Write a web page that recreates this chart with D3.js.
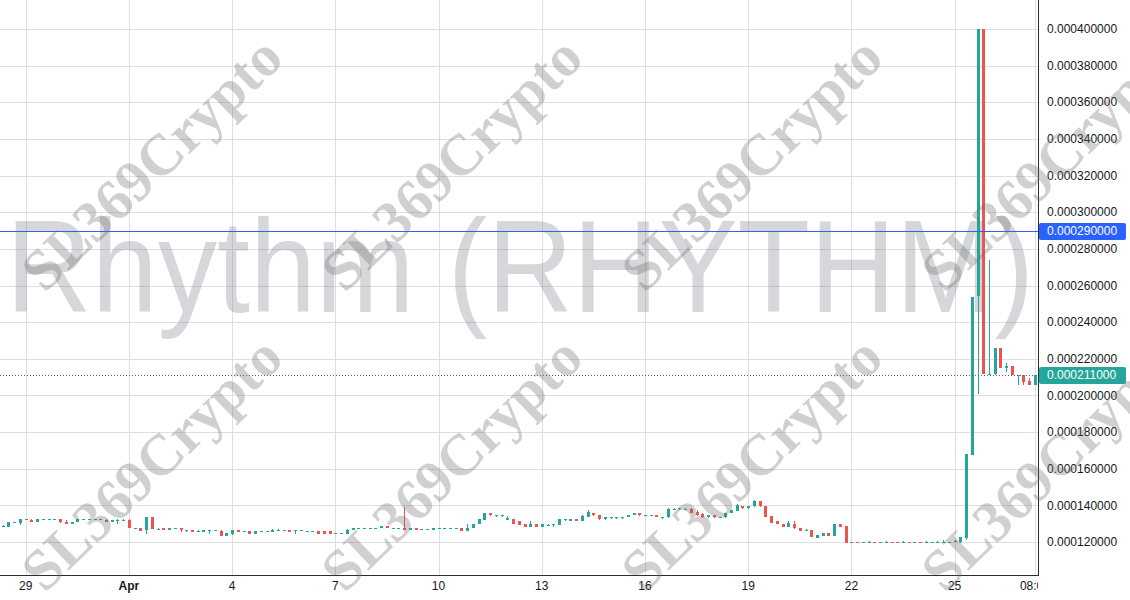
<!DOCTYPE html>
<html><head><meta charset="utf-8">
<script src="https://cdn.jsdelivr.net/npm/d3@7"></script>
<style>body{margin:0;background:#fff}svg{display:block}</style>
</head><body><svg id="c" width="1130" height="600"></svg>
<script>
// ---- data (prices in micro units, 1 unit = 0.000001) ----
const UNIT = 1e-6;
const startTime = "2024-03-28T08:00:00Z";
const barHours = 4;
const open = [128.5,128.4,130.7,130.6,132.5,132.2,130.8,132.5,132.4,132.5,132.4,130.8,129.7,130.9,132.3,132.3,132.3,132.3,132.2,130.8,
132.0,132.1,132.2,127.5,127.6,126.8,133.6,127.2,127.7,126.6,127.3,127.7,126.4,126.6,126.1,125.7,126.1,126.2,126.2,123.5,
124.4,126.6,126.0,126.0,124.6,126.0,126.0,125.7,126.6,126.3,126.6,126.2,126.4,126.0,126.0,126.1,126.1,126.1,124.7,124.7,
124.6,126.4,127.4,127.4,127.4,127.4,127.5,128.8,127.4,127.4,127.7,126.4,127.7,126.9,126.9,126.4,127.4,127.4,127.4,127.4,
127.7,126.2,127.5,129.7,132.1,136.0,134.5,134.5,131.9,132.7,131.6,129.9,128.4,129.9,128.4,129.4,129.4,129.5,132.1,131.6,
132.7,131.7,133.6,136.0,134.9,132.7,133.5,133.5,133.5,133.6,134.7,135.8,134.6,134.6,134.9,133.5,133.4,138.1,138.3,137.4,
138.2,136.3,135.2,133.4,134.9,133.5,133.4,135.8,137.1,139.8,138.3,139.4,142.2,139.7,134.0,131.2,129.7,128.4,129.7,127.7,
126.6,126.4,122.4,123.5,125.0,123.5,129.9,128.8,119.9,120.1,119.9,120.0,120.1,119.9,120.0,120.1,120.1,120.0,120.1,119.9,
120.1,120.0,119.9,120.0,120.0,119.9,120.3,119.9,122.2,167.5,254.0,400.0,211.2,211.5,226.0,214.8,216.0,211.0,211.0,208.0,205.6];
const high = [129.4,130.8,131.0,132.6,132.6,132.3,132.8,132.7,132.7,132.7,132.5,131.9,131.0,132.6,132.5,132.5,132.6,132.6,132.3,132.2,
132.3,132.3,132.3,127.7,127.7,133.7,133.7,127.4,127.8,127.8,127.5,127.8,126.7,126.7,126.3,126.7,126.4,126.8,126.3,124.9,
126.7,126.7,126.2,126.1,126.1,126.2,126.2,126.9,126.9,126.5,126.7,126.5,126.7,126.2,126.2,126.2,126.2,126.2,124.9,124.9,
126.9,127.8,127.6,127.6,127.6,127.6,128.9,128.9,127.6,127.6,138.9,127.8,127.8,127.1,127.1,127.8,127.6,127.6,127.6,127.6,
127.8,129.9,130.0,132.4,136.1,136.1,134.8,134.8,134.3,132.8,131.7,130.0,131.2,130.0,130.0,129.6,129.7,132.4,132.4,132.8,
132.8,134.9,137.4,136.1,135.0,133.9,133.8,133.8,133.8,135.0,135.9,135.9,134.8,134.8,135.0,133.8,138.3,138.3,138.6,138.3,
138.3,137.2,136.0,135.0,135.0,133.7,136.1,137.3,140.7,139.9,139.9,143.1,142.3,139.8,134.1,131.3,129.8,131.2,131.2,127.8,
126.9,126.5,124.0,125.1,125.1,130.0,130.0,128.9,120.2,120.2,120.2,120.3,120.2,120.2,120.3,120.2,120.2,120.3,120.2,120.2,
120.2,120.3,120.2,120.3,121.3,120.2,120.9,123.0,168.0,253.8,400.0,400.0,274.0,226.1,226.1,217.5,216.1,211.3,211.1,209.5,211.1];
const low = [128.5,128.4,130.6,129.5,132.1,130.7,130.7,132.4,131.9,132.4,130.6,129.6,129.6,130.8,132.2,132.2,131.8,131.8,130.7,130.7,
129.7,132.0,127.4,127.4,126.1,124.4,127.1,127.1,126.5,126.5,127.2,125.7,125.7,125.6,126.0,125.6,124.6,126.1,123.4,123.4,
124.0,125.6,125.9,124.5,124.5,125.9,125.9,125.6,126.2,126.2,125.6,124.6,126.0,125.9,125.9,124.5,124.5,124.5,124.6,124.6,
124.5,126.3,127.3,127.3,127.3,127.3,127.4,127.4,127.3,127.3,126.3,126.3,126.3,126.8,126.8,126.3,127.3,127.3,127.3,127.3,
126.1,126.1,127.4,129.6,132.0,134.4,133.4,133.6,131.8,129.6,129.3,128.3,128.3,128.3,128.3,129.3,128.4,129.4,131.2,131.5,
131.5,131.6,133.5,134.4,132.2,132.1,132.6,132.6,132.6,133.5,134.6,134.4,134.5,134.5,133.5,132.5,133.3,138.0,137.6,137.3,
135.7,134.4,133.3,133.3,133.3,133.4,133.3,135.7,137.0,138.2,138.2,139.3,139.3,133.7,130.5,129.6,128.3,128.3,127.3,125.8,
126.1,122.5,122.3,123.4,123.4,123.4,128.3,119.5,119.8,119.8,119.8,119.6,119.8,119.8,119.6,119.8,119.8,119.6,119.8,119.8,
119.8,119.6,119.8,119.6,119.9,119.8,119.8,119.6,121.0,167.4,200.8,211.6,211.0,211.4,214.7,212.6,210.9,205.6,205.8,205.5,205.5];
const close = [128.7,130.8,130.9,132.5,132.2,130.8,132.7,132.6,132.6,132.6,130.7,129.7,130.9,132.5,132.4,132.4,132.5,132.5,130.8,132.1,
132.2,132.2,127.5,127.6,126.2,133.6,127.2,127.3,126.6,127.7,127.4,126.4,126.6,125.7,126.2,126.6,126.3,126.4,123.5,124.8,
126.6,125.7,126.1,124.6,126.0,126.1,126.1,126.8,126.8,126.4,125.7,126.4,126.6,126.1,126.1,124.6,124.6,124.6,124.8,124.8,
126.8,127.7,127.5,127.5,127.5,127.5,128.8,127.5,127.5,127.5,126.4,127.7,126.4,127.0,127.0,127.7,127.5,127.5,127.5,127.5,
126.2,127.7,129.9,132.3,136.0,134.5,134.7,134.7,133.0,129.7,129.4,128.4,129.9,128.4,129.9,129.5,129.6,132.3,132.3,132.7,
131.6,134.1,136.3,134.5,132.3,133.8,133.7,133.7,133.7,134.9,135.8,134.5,134.7,134.7,133.6,133.7,138.2,138.2,138.5,138.2,
135.8,134.5,133.4,134.9,133.4,133.6,136.0,137.2,140.0,138.3,139.8,142.2,139.4,133.8,130.6,129.7,128.4,130.1,127.4,125.9,
126.8,122.6,123.9,125.0,123.5,129.9,128.4,119.6,120.1,119.9,120.1,120.2,119.9,120.1,120.2,119.9,119.9,120.2,119.9,120.1,
119.9,120.2,120.1,120.2,120.2,120.1,119.9,122.9,168.0,253.7,400.0,211.7,211.8,226.0,214.8,216.0,211.0,211.2,207.4,205.6,211.0];

const yTicks = [0.00012,0.00014,0.00016,0.00018,0.0002,0.00022,0.00024,0.00026,0.00028,0.0003,0.00032,0.00034,0.00036,0.00038,0.0004];
const xTickDates = ["2024-03-29T00:00:00Z","2024-04-01T00:00:00Z","2024-04-04T00:00:00Z","2024-04-07T00:00:00Z","2024-04-10T00:00:00Z",
"2024-04-13T00:00:00Z","2024-04-16T00:00:00Z","2024-04-19T00:00:00Z","2024-04-22T00:00:00Z","2024-04-25T00:00:00Z","2024-04-27T08:00:00Z"];
const xTickLabels = ["29","Apr","4","7","10","13","16","19","22","25","08:00"];
const boldTicks = ["Apr"];
const markedPrice = 0.00029;
const lastPrice = 0.000211;
const symbolTitle = "Rhythm (RHYTHM)";
const stampText = "SL369Crypto";

// ---- layout ----
const W = 1130, H = 600, PR = 1038, PB = 575;
const UP = "#26a69a", DOWN = "#ef5350", GRID = "#dcdfe3", AXIS = "#2a2e39", TXT = "#131722";

const svg = d3.select("#c");
const t0 = new Date(startTime);
const bars = open.map((o, i) => ({
  t: new Date(t0.getTime() + i * barHours * 3600e3),
  o: o * UNIT, h: high[i] * UNIT, l: low[i] * UNIT, c: close[i] * UNIT
}));

const x = d3.scaleUtc().domain([bars[0].t, bars[bars.length - 1].t]).range([2.76, 1034.9]);
const y = d3.scaleLinear().domain([0.00012, 0.0004]).range([542, 29]);

svg.append("rect").attr("width", W).attr("height", H).attr("fill", "#fff");

svg.append("defs").append("clipPath").attr("id", "pane")
  .append("rect").attr("x", 0).attr("y", 0).attr("width", PR).attr("height", PB);

const pane = svg.append("g").attr("clip-path", "url(#pane)").attr("shape-rendering", "crispEdges");

// grid
pane.append("g").selectAll("line.h").data(yTicks).join("line")
  .attr("x1", 0).attr("x2", PR)
  .attr("y1", d => Math.round(y(d)) + 0.5).attr("y2", d => Math.round(y(d)) + 0.5)
  .attr("stroke", GRID);
const xt = xTickDates.map(d => new Date(d));
pane.append("g").selectAll("line.v").data(xt).join("line")
  .attr("y1", 0).attr("y2", PB)
  .attr("x1", d => Math.round(x(d)) + 0.5).attr("x2", d => Math.round(x(d)) + 0.5)
  .attr("stroke", GRID);

// symbol watermark
pane.append("text").text(symbolTitle)
  .attr("x", 520).attr("y", 312).attr("text-anchor", "middle")
  .attr("textLength", 1028).attr("lengthAdjust", "spacingAndGlyphs")
  .attr("font-family", "Liberation Sans, Arial, sans-serif").attr("font-size", 132)
  .attr("shape-rendering", "auto")
  .attr("fill", "rgba(120,123,134,0.30)");

// candles
const cg = pane.append("g");
cg.selectAll("rect.w").data(bars).join("rect")
  .attr("x", d => Math.round(x(d.t)))
  .attr("width", 1)
  .attr("y", d => Math.round(y(d.h)))
  .attr("height", d => Math.max(1, Math.round(y(d.l)) - Math.round(y(d.h))))
  .attr("fill", d => d.c >= d.o ? UP : DOWN);
cg.selectAll("rect.b").data(bars).join("rect")
  .attr("x", d => Math.round(x(d.t)) - 1)
  .attr("width", 3)
  .attr("y", d => Math.round(y(Math.max(d.o, d.c))))
  .attr("height", d => Math.max(1, Math.round(y(Math.min(d.o, d.c))) - Math.round(y(Math.max(d.o, d.c)))))
  .attr("fill", d => d.c >= d.o ? UP : DOWN);

// lines
pane.append("rect").attr("x", 0).attr("width", PR)
  .attr("y", Math.round(y(markedPrice))).attr("height", 1)
  .attr("fill", "#2962ff");
pane.append("line").attr("x1", 0).attr("x2", PR)
  .attr("y1", Math.round(y(lastPrice)) + 0.5).attr("y2", Math.round(y(lastPrice)) + 0.5)
  .attr("stroke", "#5d606b").attr("stroke-dasharray", "1,2");

// axes borders
svg.append("rect").attr("x", PR).attr("y", 0).attr("width", 1).attr("height", PB + 1).attr("fill", AXIS);
svg.append("rect").attr("x", 0).attr("y", PB).attr("width", PR + 1).attr("height", 1).attr("fill", AXIS);

// y labels
const fmt = v => v.toFixed(9);
svg.append("g").selectAll("text").data(yTicks).join("text")
  .attr("x", 1047).attr("y", d => y(d)).attr("dy", "0.35em")
  .attr("font-family", "Liberation Sans, Arial, sans-serif").attr("font-size", 12)
  .attr("fill", TXT).text(fmt);

// x labels
svg.append("defs").append("clipPath").attr("id", "xclip")
  .append("rect").attr("x", 0).attr("y", PB).attr("width", PR).attr("height", H - PB);
svg.append("g").attr("clip-path", "url(#xclip)").selectAll("text").data(xt).join("text")
  .attr("x", d => x(d)).attr("y", 590).attr("text-anchor", "middle")
  .attr("font-family", "Liberation Sans, Arial, sans-serif").attr("font-size", 12)
  .attr("font-weight", (d, i) => boldTicks.includes(xTickLabels[i]) ? "bold" : "normal")
  .attr("fill", TXT).text((d, i) => xTickLabels[i]);

// price labels
function priceTag(v, col) {
  const yy = Math.round(y(v));
  svg.append("rect").attr("x", PR + 1).attr("y", yy - 8).attr("width", 87).attr("height", 17)
    .attr("rx", 2).attr("fill", col);
  svg.append("text").attr("x", 1047).attr("y", yy).attr("dy", "0.35em")
    .attr("font-family", "Liberation Sans, Arial, sans-serif").attr("font-size", 12)
    .attr("fill", "#fff").text(fmt(v));
}
priceTag(markedPrice, "#2962ff");
priceTag(lastPrice, UP);

// diagonal stamps
const stamps = [];
[163, 463].forEach(cy => [151, 451, 751, 1051].forEach(cx => stamps.push([cx, cy])));
svg.append("g").selectAll("text").data(stamps).join("text")
  .attr("transform", d => `translate(${d[0]},${d[1]}) rotate(-44)`)
  .attr("text-anchor", "middle").attr("dy", "0.35em")
  .attr("font-family", "Liberation Serif, Times New Roman, serif").attr("font-weight", "bold")
  .attr("font-size", 58).attr("fill", "rgba(110,110,110,0.32)")
  .text(stampText);
</script></body></html>
